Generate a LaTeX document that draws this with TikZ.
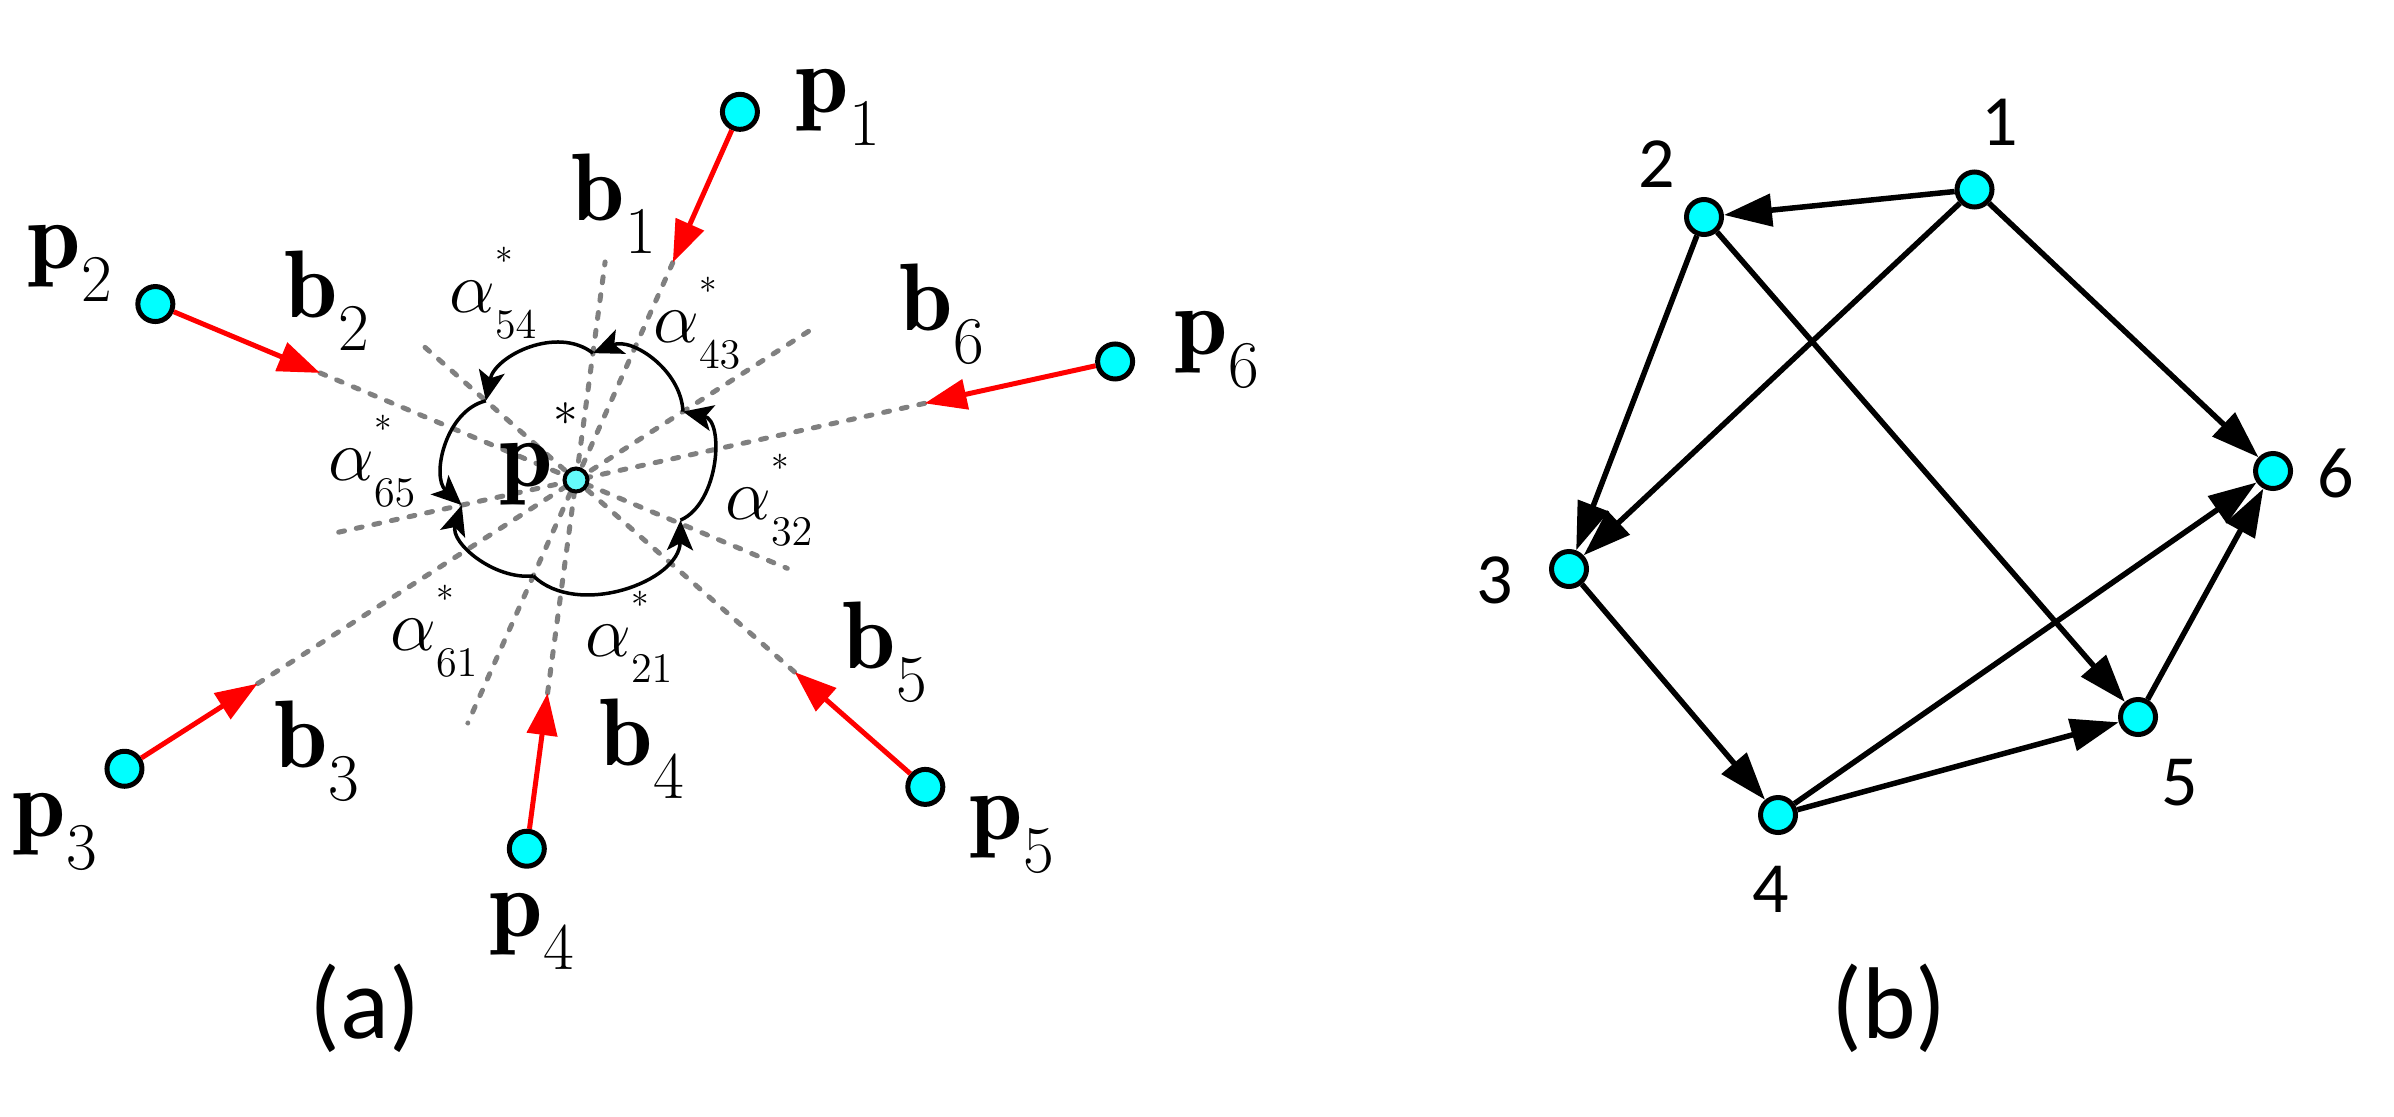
\documentclass[tikz,border=0pt]{standalone}
\usepackage{fix-cm}
\usepackage{fontspec}
\usepackage{tikz}
\usetikzlibrary{arrows.meta}
\newfontfamily\calfont{Carlito}
\definecolor{dotcyan}{RGB}{0,255,255}
\definecolor{dotlight}{RGB}{100,250,250}
\definecolor{bgray}{RGB}{128,128,128}
\DeclareMathSizes{27.3}{27.3}{19}{14}
\DeclareMathSizes{20.74}{20.74}{12}{10}
\newcommand{\bigfont}{\fontsize{27.3}{32}\selectfont}
\newcommand{\angfont}{\fontsize{20.74}{24}\selectfont}
\newcommand{\vb}[2]{$\mathbf{#1}_{\lower0.2em\hbox{$\scriptstyle #2$}}$}
\newcommand{\angl}[1]{$\alpha^{\raisebox{0.3em}{$\scriptscriptstyle *$}}_{\lower0.12em\hbox{$\scriptstyle #1$}}$}

\begin{document}
\begin{tikzpicture}[
    pnt/.style={circle,draw,line width=0.05cm,fill=dotcyan,minimum size=0.35cm,inner sep=0pt},
    ctr/.style={circle,draw,line width=0.04cm,fill=dotlight,minimum size=0.23cm,inner sep=0pt},
    bear/.style={red,line width=0.05cm,-{Triangle[length=4.2mm,width=3mm]}},
    bline/.style={bgray,line width=0.05cm,dash pattern=on 0.06cm off 0.12cm,line cap=round},
    turn/.style={line width=0.035cm,-{Stealth[length=3mm,width=2.6mm,inset=0.7mm]}},
    link/.style={line width=0.055cm,-{Triangle[length=4.8mm,width=3.2mm]}},
    lbl/.style={inner sep=0pt,anchor=base west,font=\bigfont},
    alab/.style={inner sep=0pt,anchor=base west,font=\angfont},
    num/.style={inner sep=0pt,font=\calfont\fontsize{20.5}{24}\selectfont},
    panel/.style={inner sep=0pt,anchor=base,font=\calfont\fontsize{29}{34}\selectfont}
  ]
  \useasboundingbox (0,0) rectangle (23.94,11.16);

  % (a) bearings measured at p*
  \begin{scope}[shift={(5.76,6.36)}]
    \coordinate (t1) at (66:2.38);    \coordinate (e1) at (246:2.66);
    \coordinate (t2) at (157.3:2.775); \coordinate (e2) at (337.3:2.29);
    \coordinate (t3) at (212.6:3.78); \coordinate (e3) at (32.6:2.81);
    \coordinate (t4) at (262.4:2.15); \coordinate (e4) at (82.4:2.20);
    \coordinate (t5) at (318.7:2.91); \coordinate (e5) at (138.7:2.01);
    \coordinate (t6) at (12.4:3.57);  \coordinate (e6) at (192.4:2.43);
    \coordinate (c1) at (246:1.05);
    \coordinate (c2) at (339:1.12);
    \coordinate (c3) at (32.6:1.27);
    \coordinate (c4) at (82.4:1.28);
    \coordinate (c5) at (138.7:1.20);
    \coordinate (c6) at (192.4:1.17);
    \node[pnt] (p1) at (66:4.03) {};
    \node[pnt] (p2) at (157.3:4.56) {};
    \node[pnt] (p3) at (212.6:5.36) {};
    \node[pnt] (p4) at (262.4:3.72) {};
    \node[pnt] (p5) at (318.7:4.65) {};
    \node[pnt] (p6) at (12.4:5.52) {};
  \end{scope}

  \draw[bline] (t1) -- (e1);
  \draw[bline] (t2) -- (e2);
  \draw[bline] (t3) -- (e3);
  \draw[bline] (t4) -- (e4);
  \draw[bline] (t5) -- (e5);
  \draw[bline] (t6) -- (e6);

  % angles between bearings
  \draw[turn] (c1) to[out=316,in=269] (c2);
  \draw[turn] (c2) to[out=24,in=347.6] (c3);
  \draw[turn] (c3) to[out=92.6,in=22.4] (c4);
  \draw[turn] (c4) to[out=142.4,in=78.7] (c5);
  \draw[turn] (c5) to[out=193.7,in=137.4] (c6);
  \draw[turn] (c1) to[out=186,in=252.4] (c6);

  \node[ctr] (ps) at (5.76,6.36) {};

  \draw[bear] (p1) -- (t1);
  \draw[bear] (p2) -- (t2);
  \draw[bear] (p3) -- (t3);
  \draw[bear] (p4) -- (t4);
  \draw[bear] (p5) -- (t5);
  \draw[bear] (p6) -- (t6);

  \node[lbl] (lp1) at (7.95,10.04) {\vb{p}{1}};
  \node[lbl] (lp2) at (0.27,8.48) {\vb{p}{2}};
  \node[lbl] (lp3) at (0.12,2.80) {\vb{p}{3}};
  \node[lbl] (lp4) at (4.89,1.80) {\vb{p}{4}};
  \node[lbl] (lp5) at (9.69,2.77) {\vb{p}{5}};
  \node[lbl] (lp6) at (11.74,7.62) {\vb{p}{6}};
  \node[lbl] (lb1) at (5.71,8.96) {\vb{b}{1}};
  \node[lbl] (lb2) at (2.84,7.99) {\vb{b}{2}};
  \node[lbl] (lb3) at (2.74,3.49) {\vb{b}{3}};
  \node[lbl] (lb4) at (5.99,3.51) {\vb{b}{4}};
  \node[lbl] (lb5) at (8.42,4.48) {\vb{b}{5}};
  \node[lbl] (lb6) at (8.99,7.86) {\vb{b}{6}};
  \node[lbl] (lps) at (4.99,6.30) {$\mathbf{p}^{\raisebox{0.27em}{$\scriptscriptstyle *$}}$};

  \node[alab] (a54) at (4.49,8.04) {\angl{54}};
  \node[alab] (a43) at (6.53,7.74) {\angl{43}};
  \node[alab] (a65) at (3.28,6.36) {\angl{65}};
  \node[alab] (a32) at (7.25,5.97) {\angl{32}};
  \node[alab] (a61) at (3.90,4.66) {\angl{61}};
  \node[alab] (a21) at (5.85,4.60) {\angl{21}};

  \node[panel] (capa) at (3.65,0.78) {(a)};

  % (b) graph
  \node[pnt] (v1) at (19.745,9.265) {};
  \node[pnt] (v2) at (17.04,8.99) {};
  \node[pnt] (v3) at (15.69,5.47) {};
  \node[pnt] (v4) at (17.78,3.01) {};
  \node[pnt] (v5) at (21.38,3.99) {};
  \node[pnt] (v6) at (22.73,6.45) {};

  \draw[link] (v1) -- (v2);
  \draw[link] (v1) -- (v3);
  \draw[link] (v1) -- (v6);
  \draw[link] (v2) -- (v3);
  \draw[link] (v2) -- (v5);
  \draw[link] (v3) -- (v4);
  \draw[link] (v4) -- (v5);
  \draw[link] (v4) -- (v6);
  \draw[link] (v5) -- (v6);

  \node[num] (l1) at (20.00,9.94) {1};
  \node[num] (l2) at (16.57,9.52) {2};
  \node[num] (l3) at (14.95,5.36) {3};
  \node[num] (l4) at (17.71,2.27) {4};
  \node[num] (l5) at (21.80,3.33) {5};
  \node[num] (l6) at (23.36,6.43) {6};

  \node[panel] (capb) at (18.89,0.78) {(b)};
\end{tikzpicture}
\end{document}
